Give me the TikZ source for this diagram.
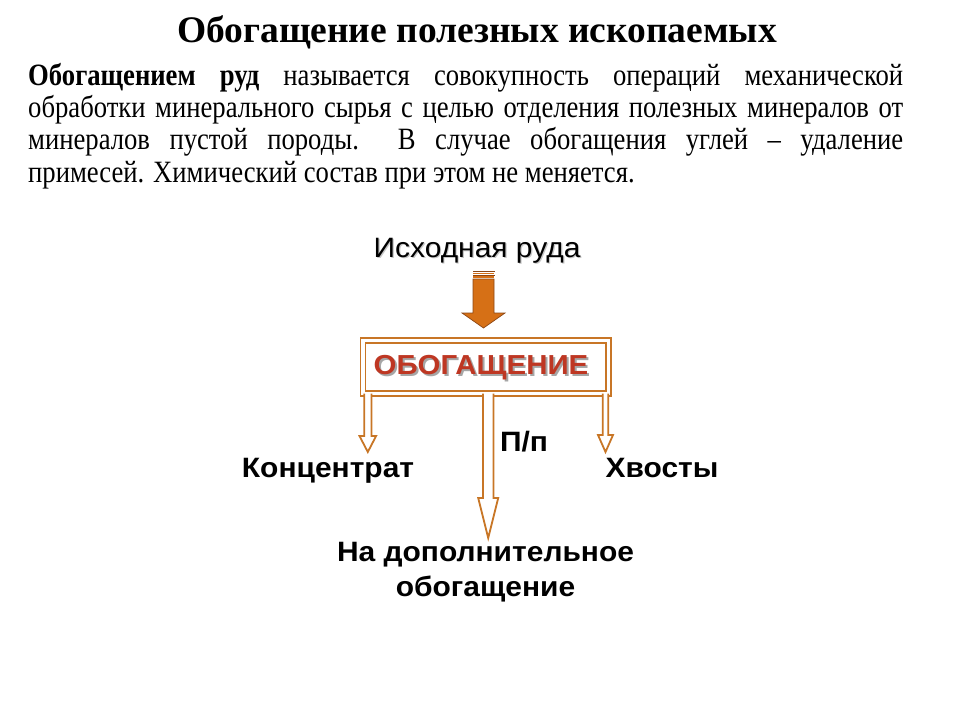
\documentclass[tikz,border=0pt]{standalone}
\usepackage{fontspec}
\setmainfont{Liberation Serif}
\newfontfamily\condserif[FakeStretch=0.86]{Liberation Serif}
\newfontfamily\arialfont[FakeStretch=1.07]{Liberation Sans}
\usetikzlibrary{calc}
\definecolor{pipeorange}{RGB}{200,118,38}
\definecolor{arrowfill}{RGB}{214,112,22}
\definecolor{arrowedge}{RGB}{140,70,20}
\definecolor{boxred}{RGB}{190,55,35}
\newcommand\hollowarrow[6]{%
  \fill[white] (#1-#3,#2) -- (#1-#3,#5) -- (#1-#4,#5) -- (#1,#6) -- (#1+#4,#5) -- (#1+#3,#5) -- (#1+#3,#2) -- cycle;
  \draw[pipe] (#1-#3,#2) -- (#1-#3,#5) -- (#1-#4,#5) -- (#1,#6) -- (#1+#4,#5) -- (#1+#3,#5) -- (#1+#3,#2);
}
\begin{document}
\begin{tikzpicture}[x=1pt,y=-1pt,
  pipe/.style={draw=pipeorange,line width=1.8pt,line join=miter},
  sanslabel/.style={font=\arialfont\bfseries\fontsize{28}{32}\selectfont,inner sep=0pt},
  shadowcol/.style={text=black!22}]
\useasboundingbox (0,0) rectangle (960,720);
% title
\node[anchor=base,inner sep=0pt,font=\bfseries\fontsize{37.5}{40}\selectfont] (title) at (477,42) {Обогащение полезных ископаемых};
% body
\node[anchor=north west,inner sep=0pt,text width=875pt,align=justify,font=\condserif\fontsize{31}{32.3}\selectfont] (body) at (28,62.4)
{\strut\textbf{Обогащением руд} называется совокупность операций механической\linebreak обработки минерального сырья с целью отделения полезных минералов от\linebreak минералов пустой породы.\ \ В случае обогащения углей – удаление\linebreak примесей. Химический состав при этом не меняется.};
% source text
\node[anchor=base,inner sep=0pt,font=\arialfont\fontsize{28}{32}\selectfont,shadowcol] (ruda-s) at (478.2,258.7) {Исходная руда};
\node[anchor=base,inner sep=0pt,font=\arialfont\fontsize{28}{32}\selectfont] (ruda) at (477,257.5) {Исходная руда};
% box
\node[draw=pipeorange,double=white,double distance=3.2pt,line width=1.8pt,minimum width=245.5pt,minimum height=53pt,inner sep=0pt] (box) at (485.75,367) {};
\node[sanslabel,anchor=base,font=\arialfont\bfseries\fontsize{27.5}{32}\selectfont,text=black!35] (boxtext-s) at (483,376.5) {ОБОГАЩЕНИЕ};
\node[sanslabel,anchor=base,font=\arialfont\bfseries\fontsize{27.5}{32}\selectfont,text=boxred] (boxtext) at (481,374.5) {ОБОГАЩЕНИЕ};
% top arrow
\fill[arrowfill,draw=arrowedge,line width=0.7pt] (473,279) -- (473,313) -- (462,313) -- (483.5,328) -- (505,313) -- (494,313) -- (494,279) -- cycle;
\fill[arrowedge] (472.5,270.5) rectangle (494.5,272);
\fill[arrowfill] (473,272.6) rectangle (494,274.2);
\fill[arrowedge] (472.5,274.6) rectangle (494.5,275.8);
\fill[arrowfill] (473,276.4) rectangle (494,278);
% hollow arrows
\hollowarrow{367.8}{393.5}{3.6}{8.3}{436}{452}
\hollowarrow{488.2}{393.5}{5.2}{10}{498}{538}
\hollowarrow{605.5}{393.5}{2.8}{7.5}{435}{452}
% labels
\node[sanslabel,anchor=base] (conc) at (328,477) {Концентрат};
\node[sanslabel,anchor=base] (hvost) at (662,477) {Хвосты};
\node[sanslabel,anchor=base] (pp) at (524,451) {П/п};
\node[sanslabel,align=center,font=\arialfont\bfseries\fontsize{28}{35}\selectfont] (dop) at (485.5,572.5) {На дополнительное\\обогащение};
\end{tikzpicture}
\end{document}
